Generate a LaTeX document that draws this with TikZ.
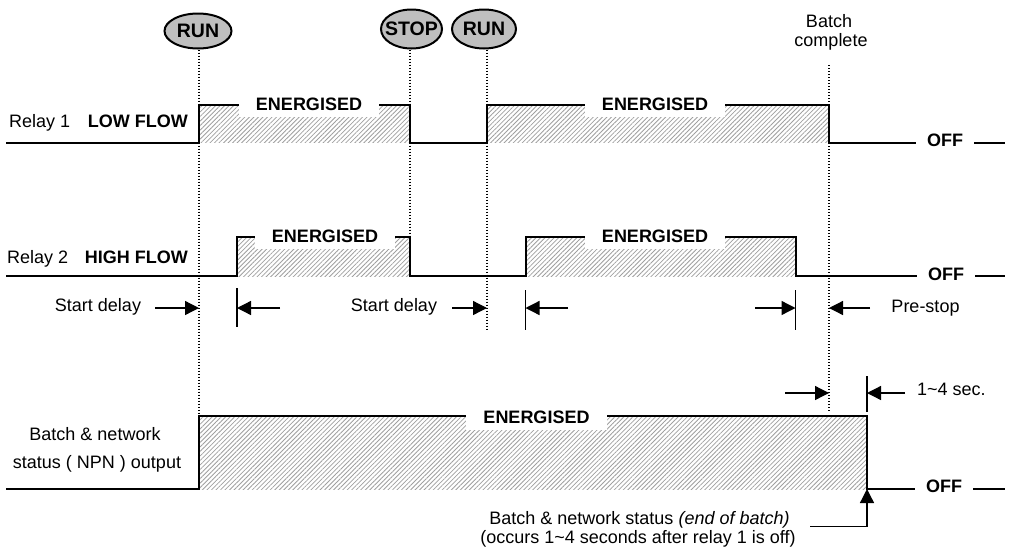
\documentclass[tikz,border=0pt]{standalone}
\usepackage{fontspec}
\setmainfont{Liberation Sans}
\usetikzlibrary{arrows.meta,patterns.meta,shapes.geometric}
\begin{document}
\begin{tikzpicture}[x=1pt,y=-1pt,
  font=\fontsize{18}{18}\selectfont,
  wave/.style={line width=2pt, line join=miter},
  hatch/.style={pattern={Lines[angle=45,distance=3.2pt,line width=0.8pt]}, pattern color=gray!75},
  guide/.style={line width=1.3pt, dash pattern=on 1.3pt off 1.7pt},
  dimarrow/.style={line width=1.3pt, -{Triangle[length=14pt,width=14pt]}},
  tickline/.style={line width=1.3pt},
  lbl/.style={inner sep=0pt, anchor=base},
  boldlbl/.style={inner sep=0pt, font=\fontsize{18}{18}\selectfont\bfseries},
  energ/.style={fill=white, font=\fontsize{18}{18}\selectfont\bfseries, inner xsep=17pt, inner ysep=6.3pt, text depth=0pt, anchor=base},
  offlbl/.style={fill=white, font=\fontsize{18}{18}\selectfont\bfseries, inner xsep=11pt, inner ysep=2pt, anchor=base},
  cmd/.style={ellipse, draw, line width=2pt, fill=gray!50, inner sep=0pt, font=\fontsize{19.5}{19.5}\selectfont\bfseries},
]
\useasboundingbox (0,0) rectangle (1012,552);

% key coordinates
\coordinate (xrun1) at (199,0);
\coordinate (xstop) at (410,0);
\coordinate (xrun2) at (487,0);
\coordinate (bRise) at (199,416);
\coordinate (r2StopTop) at (410,237);
\coordinate (g3end) at (487,330);
\coordinate (g4top) at (829,65);
\coordinate (g4end) at (829,411);

% command ovals
\node[cmd, minimum width=67pt, minimum height=35pt] (run1) at (198,31) {\makebox[0pt]{RUN}};
\node[cmd, minimum width=61pt, minimum height=39pt] (stop) at (411.5,29) {\makebox[0pt]{STOP}};
\node[cmd, minimum width=64pt, minimum height=39pt] (run2) at (484,29) {\makebox[0pt]{RUN}};

% batch complete
\node[lbl] (bc1) at (829,27.3) {Batch};
\node[lbl] (bc2) at (831,46) {complete};

% dotted guides
\draw[guide] (run1.south -| xrun1) -- (bRise);
\draw[guide] (stop.south -| xstop) -- (r2StopTop);
\draw[guide] (run2.south -| xrun2) -- (g3end);
\draw[guide] (g4top) -- (g4end);

% hatching
\fill[hatch] (199,104.5) rectangle (410,142.7);
\fill[hatch] (487,104.5) rectangle (829,142.7);
\fill[hatch] (237,237) rectangle (410,276);
\fill[hatch] (525.5,237) rectangle (795.5,276);
\fill[hatch] (199,416) rectangle (867,489);

% waveforms
\draw[wave] (6,142.7) -- (199,142.7) -- (199,104.5) -- (410,104.5) -- (410,142.7) -- (487,142.7) -- (487,104.5) -- (829,104.5) -- (829,142.7) -- (1005,142.7);
\draw[wave] (6,276) -- (237,276) -- (237,237) -- (410,237) -- (410,276) -- (525.5,276) -- (525.5,237) -- (795.5,237) -- (795.5,276) -- (1005,276);
\draw[wave] (6,489) -- (199,489) -- (199,416) -- (867,416) -- (867,489) -- (1005,489);

% state labels
\node[energ] (e1) at (309,110.7) {ENERGISED};
\node[energ] (e2) at (655,110.7) {ENERGISED};
\node[energ] (e3) at (325,242.7) {ENERGISED};
\node[energ] (e4) at (655,242.7) {ENERGISED};
\node[energ] (e5) at (536.5,423.3) {ENERGISED};
\node[offlbl] (off1) at (945,146.7) {OFF};
\node[offlbl] (off2) at (946,280) {OFF};
\node[offlbl] (off3) at (944,492.5) {OFF};

% left labels
\node[lbl, anchor=base west] (relay1) at (9,127.7) {Relay 1};
\node[boldlbl, anchor=base east] (lowflow) at (188,127.7) {LOW FLOW};
\node[lbl, anchor=base west] (relay2) at (7,263.3) {Relay 2};
\node[boldlbl, anchor=base east] (highflow) at (188,263.3) {HIGH FLOW};
\node[lbl] (bns1) at (95,440) {Batch \& network};
\node[lbl] (bns2) at (97,468) {status ( NPN ) output};

% delay annotations (relay 2)
\node[lbl] (sd1) at (98,311.7) {Start delay};
\node[lbl] (sd2) at (394,311.7) {Start delay};
\node[lbl] (ps) at (925.5,312) {Pre-stop};

\coordinate (a1s) at (155,308);  \coordinate (a1e) at (199,308);
\coordinate (t1a) at (237,288);  \coordinate (t1b) at (237,327);
\coordinate (a2s) at (280,308);  \coordinate (a2e) at (237,308);
\coordinate (a3s) at (452,308);  \coordinate (a3e) at (487,308);
\coordinate (t2a) at (525.5,290); \coordinate (t2b) at (525.5,330);
\coordinate (a4s) at (568,308);  \coordinate (a4e) at (525.5,308);
\coordinate (t3a) at (795.5,290); \coordinate (t3b) at (795.5,330);
\coordinate (a5s) at (755,308);  \coordinate (a5e) at (795.5,308);
\coordinate (a6s) at (870,308);  \coordinate (a6e) at (829,308);

\draw[dimarrow] (a1s) -- (a1e);
\draw[tickline] (t1a) -- (t1b);
\draw[dimarrow] (a2s) -- (a2e);
\draw[dimarrow] (a3s) -- (a3e);
\draw[tickline] (t2a) -- (t2b);
\draw[dimarrow] (a4s) -- (a4e);
\draw[tickline] (t3a) -- (t3b);
\draw[dimarrow] (a5s) -- (a5e);
\draw[dimarrow] (a6s) -- (a6e);

% 1~4 sec annotation
\coordinate (t4a) at (867,376); \coordinate (t4b) at (867,412);
\coordinate (b1s) at (785,393); \coordinate (b1e) at (829,393);
\coordinate (b2s) at (905,393); \coordinate (b2e) at (867,393);
\draw[tickline] (t4a) -- (t4b);
\draw[dimarrow] (b1s) -- (b1e);
\draw[dimarrow] (b2s) -- (b2e);
\node[lbl, anchor=base west] (sec) at (917,395) {1\textasciitilde4 sec.};

% end of batch annotation
\node[lbl] (ann1) at (639.5,524) {Batch \& network status \textit{(end of batch)}};
\node[lbl] (ann2) at (638,543) {(occurs 1\textasciitilde4 seconds after relay 1 is off)};
\coordinate (leadstart) at (810,526.7);
\coordinate (leadcorner) at (867,526.7);
\coordinate (bFallBot) at (867,489);
\draw[dimarrow] (leadstart) -- (leadcorner) -- (bFallBot);
\end{tikzpicture}
\end{document}
